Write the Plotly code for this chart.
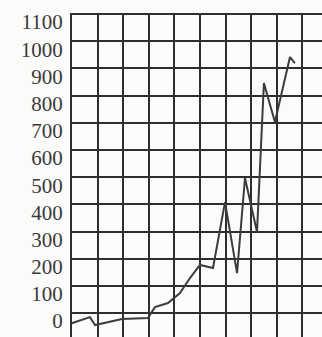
import plotly.graph_objects as go

# x position in grid units (one unit per vertical grid column), y values
x_vals = [-0.1, 0.7, 0.9, 1.95, 2.97, 3.24, 3.75, 4.22, 4.61, 5.0, 5.51, 5.98,
          6.45, 6.76, 7.23, 7.5, 7.93, 8.52, 8.71]
y_vals = [-40, -15, -44, -22, -18, 22, 37, 74, 129, 177, 166, 408,
          147, 497, 298, 846, 703, 942, 920]

y_ticks = list(range(0, 1101, 100))
x_grid = list(range(0, 10))

fig = go.Figure(
    go.Scatter(
        x=x_vals,
        y=y_vals,
        mode="lines",
        line={"color": "#3c3c3c", "width": 2},
        cliponaxis=False,
        hoverinfo="skip",
    )
)
fig.update_layout(
    width=322,
    height=337,
    paper_bgcolor="#fbfbf9",
    plot_bgcolor="#fbfbf9",
    showlegend=False,
    margin={"l": 72, "r": 0, "t": 13, "b": 0},
    font={"family": "Liberation Serif", "size": 21, "color": "#3a3a3a"},
)
fig.update_xaxes(
    range=[0, 9.77],
    tickvals=x_grid,
    showticklabels=False,
    showgrid=True,
    gridcolor="#2e2e2e",
    gridwidth=2,
    zeroline=False,
    showline=False,
)
fig.update_yaxes(
    range=[-88, 1104],
    tickvals=y_ticks,
    ticktext=[str(v) for v in y_ticks],
    showgrid=True,
    gridcolor="#2e2e2e",
    gridwidth=2,
    zeroline=False,
    showline=True,
    linecolor="#2e2e2e",
    linewidth=2,
    ticklabelstandoff=3,
    ticklabelshift=8,
)
fig.write_html(
    "out.html",
    config={"displayModeBar": False},
    post_script="document.body.style.margin='0';document.body.style.overflow='hidden';",
)
